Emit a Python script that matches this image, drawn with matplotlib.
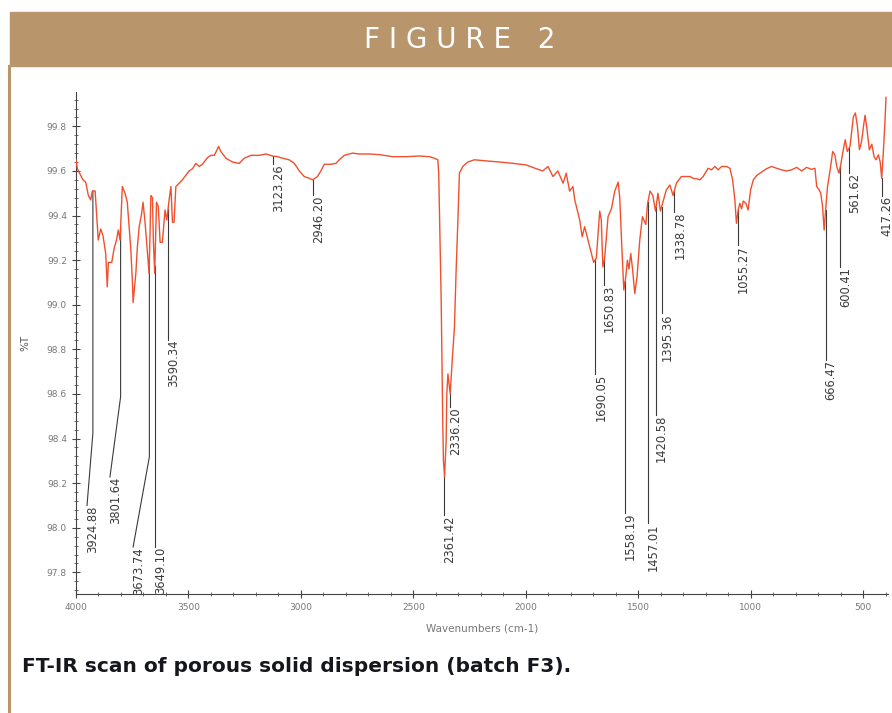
import matplotlib
matplotlib.use('Agg')
import matplotlib.pyplot as plt
import numpy as np
from matplotlib.patches import Rectangle
from matplotlib.lines import Line2D
from matplotlib.ticker import MultipleLocator

# spectrum (wavenumber cm-1, %T)
wavenumber = [4000, 3994, 3979, 3969, 3957, 3945, 3935, 3927, 3915, 3910, 3901, 3890, 3880, 3868,
              3861, 3856, 3841, 3831, 3820, 3812, 3804, 3794, 3782, 3772, 3764, 3756, 3749, 3746,
              3734, 3727, 3719, 3708, 3702, 3693, 3683, 3675, 3667, 3660, 3656, 3650, 3642, 3634,
              3626, 3616, 3604, 3596, 3586, 3578, 3571, 3564, 3556, 3541, 3527, 3512, 3497, 3482,
              3467, 3452, 3438, 3415, 3400, 3385, 3375, 3366, 3356, 3333, 3304, 3274, 3252, 3222,
              3185, 3155, 3126, 3104, 3081, 3052, 3029, 3007, 2985, 2962, 2948, 2926, 2911, 2896,
              2866, 2844, 2829, 2807, 2770, 2740, 2695, 2651, 2592, 2532, 2473, 2428, 2406, 2391,
              2387, 2381, 2376, 2372, 2369, 2366, 2361, 2354, 2351, 2346, 2336, 2327, 2317, 2310,
              2302, 2295, 2280, 2258, 2228, 2176, 2116, 2057, 1998, 1953, 1924, 1901, 1879, 1857,
              1834, 1820, 1805, 1790, 1782, 1760, 1749, 1738, 1723, 1708, 1698, 1686, 1671, 1664,
              1657, 1649, 1634, 1619, 1604, 1589, 1582, 1574, 1564, 1555, 1548, 1541, 1533, 1525,
              1515, 1505, 1493, 1481, 1466, 1458, 1447, 1435, 1423, 1412, 1401, 1390, 1375, 1359,
              1345, 1330, 1308, 1286, 1270, 1256, 1240, 1226, 1211, 1189, 1174, 1159, 1144, 1129,
              1107, 1092, 1080, 1070, 1063, 1055, 1048, 1040, 1033, 1021, 1011, 1000, 988, 973,
              951, 929, 907, 884, 862, 840, 818, 795, 773, 751, 729, 714, 706, 695, 688, 680, 673,
              666, 658, 647, 635, 625, 617, 607, 598, 588, 579, 570, 558, 543, 534, 525, 516, 506,
              498, 491, 484, 472, 461, 451, 442, 432, 424, 417, 410, 402, 398]
transmittance = [99.65, 99.61, 99.58, 99.56, 99.55, 99.49, 99.47, 99.51, 99.51, 99.43, 99.29, 99.34,
                 99.31, 99.23, 99.08, 99.19, 99.19, 99.25, 99.29, 99.335, 99.29, 99.53, 99.50, 99.46,
                 99.35, 99.245, 99.10, 99.01, 99.14, 99.26, 99.35, 99.41, 99.46, 99.37, 99.245,
                 99.14, 99.49, 99.48, 99.29, 99.14, 99.46, 99.44, 99.28, 99.28, 99.425, 99.38, 99.47,
                 99.53, 99.37, 99.37, 99.53, 99.545, 99.56, 99.58, 99.60, 99.61, 99.634, 99.62, 99.63,
                 99.66, 99.67, 99.67, 99.69, 99.71, 99.687, 99.657, 99.64, 99.634, 99.657, 99.67,
                 99.67, 99.676, 99.667, 99.664, 99.657, 99.65, 99.634, 99.60, 99.575, 99.567, 99.56,
                 99.575, 99.60, 99.63, 99.63, 99.634, 99.65, 99.67, 99.68, 99.676, 99.676, 99.673,
                 99.664, 99.664, 99.667, 99.664, 99.657, 99.65, 99.59, 99.29, 99.02, 98.69, 98.47,
                 98.30, 98.23, 98.39, 98.60, 98.69, 98.60, 98.75, 98.90, 99.14, 99.37, 99.59, 99.62,
                 99.64, 99.65, 99.645, 99.64, 99.634, 99.627, 99.61, 99.60, 99.62, 99.575, 99.60,
                 99.545, 99.59, 99.51, 99.53, 99.47, 99.38, 99.305, 99.35, 99.29, 99.23, 99.19, 99.21,
                 99.42, 99.38, 99.17, 99.21, 99.395, 99.43, 99.51, 99.55, 99.48, 99.29, 99.066,
                 99.126, 99.20, 99.16, 99.23, 99.16, 99.05, 99.126, 99.29, 99.395, 99.36, 99.455,
                 99.51, 99.49, 99.42, 99.50, 99.42, 99.46, 99.515, 99.537, 99.49, 99.545, 99.575,
                 99.575, 99.575, 99.567, 99.565, 99.56, 99.575, 99.612, 99.605, 99.62, 99.605, 99.62,
                 99.62, 99.612, 99.56, 99.47, 99.365, 99.425, 99.455, 99.43, 99.465, 99.455, 99.425,
                 99.515, 99.56, 99.58, 99.595, 99.61, 99.62, 99.612, 99.605, 99.60, 99.605, 99.616,
                 99.60, 99.616, 99.607, 99.612, 99.53, 99.515, 99.50, 99.44, 99.335, 99.43, 99.53,
                 99.60, 99.687, 99.672, 99.62, 99.59, 99.634, 99.695, 99.74, 99.687, 99.71, 99.843,
                 99.86, 99.80, 99.695, 99.735, 99.80, 99.85, 99.80, 99.695, 99.72, 99.664, 99.65,
                 99.672, 99.642, 99.567, 99.68, 99.83, 99.93]

# labelled peaks
peak_labels = ['3924.88', '3801.64', '3673.74', '3649.10', '3590.34', '3123.26', '2946.20',
               '2361.42', '2336.20', '1690.05', '1650.83', '1558.19', '1457.01', '1420.58',
               '1395.36', '1338.78', '1055.27', '666.47', '600.41', '561.62', '417.26']
peak_wn = [float(s) for s in peak_labels]

x_ticks = [4000, 3500, 3000, 2500, 2000, 1500, 1000, 500]
y_ticks = [97.8, 98.0, 98.2, 98.4, 98.6, 98.8, 99.0, 99.2, 99.4, 99.6, 99.8]

# leader layout: (knee %T or None, end wavenumber, end %T)
leaders = [(98.425, 3951, 98.10), (98.587, 3849, 98.228), (98.318, 3746, 97.914),
           (None, 3649.10, 97.914), (None, 3590.34, 98.842), (None, 3123.26, 99.63),
           (None, 2946.20, 99.49), (None, 2361.42, 98.057), (None, 2336.20, 98.542),
           (None, 1690.05, 98.69), (None, 1650.83, 99.089), (None, 1558.19, 98.066),
           (None, 1457.01, 98.02), (None, 1420.58, 98.506), (None, 1395.36, 98.963),
           (None, 1338.78, 99.416), (None, 1055.27, 99.268), (None, 666.47, 98.752),
           (None, 600.41, 99.17), (None, 561.62, 99.59), (None, 417.26, 99.488)]

gold = '#b8956a'

fig = plt.figure(figsize=(8.92, 7.13), dpi=100)

# header band and frame
fig.patches.append(Rectangle((10 / 892, 1 - 66 / 713), 1 - 10 / 892, 54 / 713,
                             transform=fig.transFigure, color=gold, zorder=0))
fig.lines.append(Line2D([9 / 892, 9 / 892], [0, 1 - 66 / 713], transform=fig.transFigure,
                        color=gold, lw=2.2))
fig.text(460 / 892, 1 - 40 / 713, 'F I G U R E   2', color='white', fontsize=20,
         ha='center', va='center')
fig.text(22 / 892, 1 - 667 / 713, 'FT-IR scan of porous solid dispersion (batch F3).',
         fontweight='bold', fontsize=14.5, color='#15171c', va='center')

ax = fig.add_axes([76 / 892, 1 - 594 / 713, (888 - 76) / 892, (594 - 92) / 713])
ax.plot(wavenumber, transmittance, color='#f0502d', lw=1.0, zorder=3)

wn_asc = wavenumber[::-1]
tr_asc = transmittance[::-1]
for lab, w, (knee, end_w, end_t) in zip(peak_labels, peak_wn, leaders):
    t0 = np.interp(w, wn_asc, tr_asc)
    xs = [w]
    ys = [t0]
    if knee is not None:
        xs.append(w)
        ys.append(knee)
    xs.append(end_w)
    ys.append(end_t)
    ax.plot(xs, ys, color='#3a3a3a', lw=0.8, zorder=2, clip_on=False)
    ax.text(end_w - 24, end_t, lab, rotation=90, ha='center', va='top', fontsize=8.3,
            color='#3a3a3a', clip_on=False)

ax.set_xlim(4000, 389)
ax.set_ylim(97.703, 99.954)
ax.set_xticks(x_ticks)
ax.set_xticklabels([str(v) for v in x_ticks])
ax.set_yticks(y_ticks)
ax.set_yticklabels(['%.1f' % v for v in y_ticks])
ax.xaxis.set_minor_locator(MultipleLocator(100))
ax.yaxis.set_minor_locator(MultipleLocator(0.04))
ax.tick_params(which='major', direction='inout', length=6, width=0.8, colors='#444',
               labelcolor='#777', labelsize=6.5)
ax.tick_params(which='minor', direction='inout', length=3, width=0.6, colors='#555')
ax.spines['top'].set_visible(False)
ax.spines['right'].set_visible(False)
ax.spines['left'].set_color('#444')
ax.spines['bottom'].set_color('#444')
ax.set_xlabel('Wavenumbers (cm-1)', fontsize=7.5, color='#777', labelpad=8)
ax.set_ylabel('%T', fontsize=7.5, color='#555', labelpad=12)

plt.savefig('out.png', dpi=100)
